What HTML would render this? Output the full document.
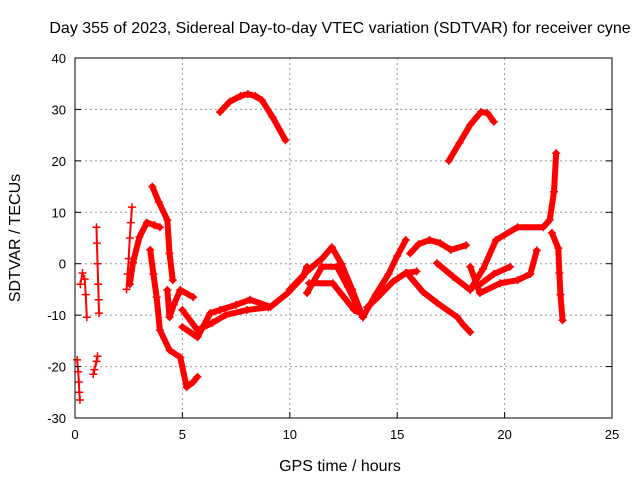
<!DOCTYPE html>
<html><head><meta charset="utf-8"><style>
body{margin:0;background:#fff;width:640px;height:480px;overflow:hidden;font-family:"Liberation Sans",sans-serif}
</style></head><body>
<svg id="chart" width="640" height="480" xmlns="http://www.w3.org/2000/svg" font-family="Liberation Sans, sans-serif">
<text x="340" y="33" font-size="16" text-anchor="middle">Day 355 of 2023, Sidereal Day-to-day VTEC variation (SDTVAR) for receiver cyne</text>
<text x="340" y="471" font-size="16" text-anchor="middle">GPS time / hours</text>
<text transform="translate(20,238) rotate(-90)" font-size="16" text-anchor="middle">SDTVAR / TECUs</text>
<g id="grid"></g><g id="series"></g>
<rect x="75" y="58" width="537" height="360" fill="none" stroke="#000" stroke-width="1"/>
<g id="ticks"></g>
</svg>
<script>
const xTicks=[0,5,10,15,20,25];
const yTicks=[-30,-20,-10,0,10,20,30,40];
const trackArcTop=[[6.75,29.5],[7.2,31.5],[7.7,32.6],[8.05,33],[8.4,32.6],[8.7,31.8],[9.2,28.5],[9.8,24]];
const trackArcRight=[[17.4,20],[17.9,23.5],[18.4,27],[18.9,29.5],[19.2,29.3],[19.5,27.6]];
const trackL1=[[0.1,-18.7],[0.15,-21],[0.18,-23],[0.2,-25],[0.23,-26.5]];
const trackL2=[[0.25,-4],[0.35,-1.8],[0.45,-3],[0.5,-6],[0.55,-10.4]];
const trackL3=[[0.85,-21.5],[0.9,-20.6],[1.0,-19],[1.05,-18]];
const trackL4=[[1.0,7.1],[1.02,4],[1.05,0],[1.08,-4],[1.1,-7],[1.12,-9.6]];
const trackL5=[[2.4,-5],[2.45,-2],[2.5,1],[2.55,5],[2.6,8],[2.65,11]];
const trackL6=[[2.55,-4],[2.7,0.2],[3.0,5.2],[3.35,8],[3.7,7.5],[3.95,7.1]];
const trackL7=[[3.5,2.7],[3.65,-2],[3.8,-6.5],[3.95,-12.9],[4.4,-16.8],[4.9,-18.2],[5.2,-24],[5.5,-23],[5.7,-22]];
const trackL8=[[3.6,15],[3.9,12],[4.3,8.5],[4.4,2],[4.55,-3.2]];
const trackL9=[[4.3,-5.1],[4.4,-10.4],[4.6,-8],[4.9,-5.1],[5.5,-6.5]];
const trackMain=[[5.0,-12.3],[5.7,-14.3],[6.3,-9.6],[6.75,-9],[7.5,-8],[8.15,-7],[9.1,-8.4],[9.9,-5.7],[10.6,-2.6],[10.8,-0.6]];
const trackMain2=[[5.0,-9],[5.7,-12.9],[6.4,-11.5],[7.0,-10],[8.0,-9],[9.0,-8.5]];
const trackA=[[10.0,-5],[10.8,-1.5],[11.5,1],[11.96,3.2],[12.4,0],[12.9,-5],[13.4,-10.4]];
const trackB=[[10.8,-5.7],[11.5,-0.6],[12.2,-0.6],[12.7,-4.5],[13.4,-10.4]];
const trackC=[[10.9,-3.8],[12.0,-3.8],[13.0,-9],[13.4,-9.8]];
const trackD=[[13.4,-10.4],[14.0,-6],[14.6,-2],[15.0,1.5],[15.4,4.6]];
const trackD2=[[13.6,-8.5],[14.1,-6.5],[14.8,-3.5],[15.4,-1.8],[15.9,-1.5]];
const trackE=[[15.6,2],[16.0,3.8],[16.5,4.6],[17.0,4],[17.5,2.7],[18.2,3.6]];
const trackF=[[15.45,-1.8],[16.2,-5.5],[16.85,-7.6],[17.8,-10.4],[18.1,-12],[18.4,-13.3]];
const trackG=[[16.85,0.1],[17.6,-2.5],[18.4,-5.1],[19.0,-1],[19.6,4.6],[20.6,7.1],[21.8,7.1],[22.1,8.5],[22.3,14],[22.4,21.5]];
const trackH=[[18.4,-0.6],[18.85,-5.7],[19.8,-3.8],[20.6,-3.2],[21.2,-2],[21.5,2.6]];
const trackI=[[18.7,-4.5],[19.5,-2],[20.25,-0.6]];
const trackJ=[[22.2,6],[22.5,3],[22.55,-1.8],[22.6,-6],[22.7,-11]];
const sparse=[trackL1,trackL2,trackL3,trackL4,trackL5];
const dense=[trackArcTop,trackArcRight,trackL6,trackL7,trackL8,trackL9,trackMain,trackMain2,trackA,trackB,trackC,trackD,trackD2,trackE,trackF,trackG,trackH,trackI,trackJ];
const NS='http://www.w3.org/2000/svg';
const X0=75,X1=612,Y0=418,Y1=58;
function xs(t){return X0+(t-0)/(25-0)*(X1-X0);}
function ys(v){return Y0-(v+30)/(70)*(Y0-Y1);}
function mk(tag,attrs,parent){const e=document.createElementNS(NS,tag);for(const k in attrs)e.setAttribute(k,attrs[k]);parent.appendChild(e);return e;}
const grid=document.getElementById('grid'),ticks=document.getElementById('ticks'),ser=document.getElementById('series');
xTicks.forEach(t=>{const x=xs(t);
 if(t>0&&t<25){const g=mk('line',{x1:x,x2:x,y1:Y1,y2:Y0,stroke:'#999','stroke-dasharray':'2,3'},grid);}
 const tk=mk('line',{x1:x,x2:x,y1:Y0,y2:Y0-6,stroke:'#000'},ticks);
 const l=mk('text',{x:x,y:Y0+21,'font-size':13,'text-anchor':'middle'},ticks);l.textContent=t;
 
 });
yTicks.forEach(v=>{const y=ys(v);
 if(v>-30&&v<40){const g=mk('line',{x1:X0,x2:X1,y1:y,y2:y,stroke:'#999','stroke-dasharray':'2,3'},grid);}
 const tk=mk('line',{x1:X0,x2:X0+6,y1:y,y2:y,stroke:'#000'},ticks);
 const tk2=mk('line',{x1:X1,x2:X1-6,y1:y,y2:y,stroke:'#000'},ticks);
 const l=mk('text',{x:X0-9,y:y+5,'font-size':13,'text-anchor':'end'},ticks);l.textContent=v;
 
 });
function draw(tr,w){
 const pts=tr.map(p=>xs(p[0])+','+ys(p[1])).join(' ');
 const pl=mk('polyline',{points:pts,fill:'none',stroke:'#f00','stroke-width':w,'stroke-linejoin':'round','stroke-linecap':'round'},ser);
 
 
 tr.forEach(p=>{const x=xs(p[0]),y=ys(p[1]);
  const m=mk('path',{d:`M${x-4},${y}H${x+4}M${x},${y-4}V${y+4}`,stroke:'#f00','stroke-width':1.5},ser);
  
  });
}
sparse.forEach(t=>draw(t,2));
dense.forEach(t=>draw(t,6));
</script>
</body></html>
